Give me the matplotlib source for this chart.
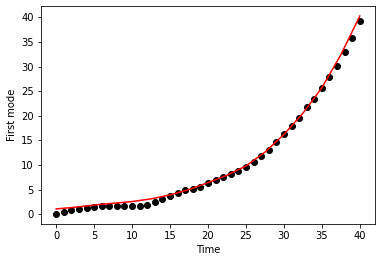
import numpy as np
import matplotlib
matplotlib.use("Agg")
import matplotlib.pyplot as plt

# Data
time = np.arange(0, 41)
mode = [0.0, 0.4, 0.8, 1.1, 1.3, 1.5, 1.6, 1.6, 1.6, 1.6,
        1.6, 1.7, 1.9, 2.4, 3.0, 3.6, 4.3, 4.8, 5.1, 5.5,
        6.4, 7.0, 7.5, 8.1, 8.7, 9.5, 10.5, 11.8, 13.1, 14.6,
        16.2, 18.0, 19.6, 21.7, 23.4, 25.7, 27.9, 30.1, 33.0, 35.9,
        39.3]

# fitted curve
fit_t = [0, 2.5, 5, 7.5, 10, 12.5, 15, 17.5, 20, 22.5, 25, 27.5, 30, 32.5, 35, 37.5, 40]
fit_y = [1.05, 1.4, 1.85, 2.2, 2.55, 3.1, 3.9, 5.0, 6.4, 7.9, 9.8, 12.6, 16.2, 20.5, 25.7, 32.4, 40.3]

fig = plt.figure(figsize=(382/72, 262/72), dpi=72)
ax = fig.add_axes([0.1073, 0.145, 0.8744, 0.832])
ax.plot(time, mode, 'ko')
ax.plot(fit_t, fit_y, 'r-')
ax.set_xlabel('Time')
ax.set_ylabel('First mode')
fig.savefig('out.png', dpi=72)
